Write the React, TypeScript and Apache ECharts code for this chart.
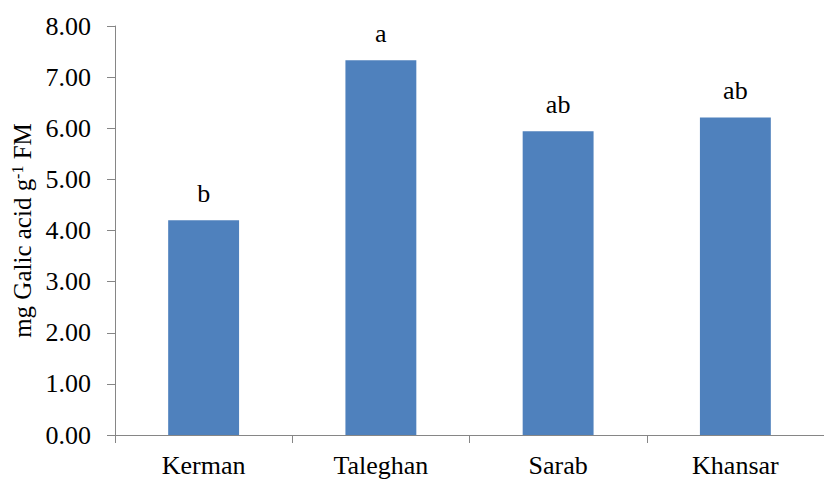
import React, { useEffect, useRef } from "react";
import * as echarts from "echarts";

const categories = ["Kerman", "Taleghan", "Sarab", "Khansar"];
const values = [4.2, 7.33, 5.94, 6.21];
const letters = ["b", "a", "ab", "ab"];
const yTicks = { min: 0, max: 8, interval: 1 };

const FONT = "Liberation Serif";

export default function App() {
  const ref = useRef<HTMLDivElement>(null);
  useEffect(() => {
    document.body.style.margin = "0";
    const chart = echarts.init(ref.current!, null, { renderer: "svg" });
    chart.setOption({
      animation: false,
      backgroundColor: "#ffffff",
      textStyle: { fontFamily: FONT },
      grid: { left: 115, top: 26, bottom: 44, width: 720 },
      xAxis: {
        type: "category",
        data: categories,
        axisLine: { show: true, lineStyle: { color: "#868686", width: 1 } },
        axisTick: { show: true, length: 8, alignWithLabel: false, lineStyle: { color: "#868686" } },
        axisLabel: { color: "#000", fontSize: 26, fontFamily: FONT, margin: 17 },
        splitLine: { show: false },
      },
      yAxis: {
        type: "value",
        min: yTicks.min,
        max: yTicks.max,
        interval: yTicks.interval,
        name: "{a|mg Galic acid g}{s|-1}{a| FM}",
        nameLocation: "middle",
        nameGap: 79,
        nameRotate: 90,
        nameTextStyle: {
          color: "#000",
          fontFamily: FONT,
          fontSize: 25,
          rich: {
            a: { fontSize: 25, fontFamily: FONT, color: "#000" },
            s: { fontSize: 16, fontFamily: FONT, color: "#000", verticalAlign: "top", padding: [0, 0, 9, 0] },
          },
        },
        axisLine: { show: true, lineStyle: { color: "#868686", width: 1 } },
        axisTick: { show: true, length: 8, inside: false, lineStyle: { color: "#868686" } },
        axisLabel: {
          color: "#000",
          fontSize: 26,
          fontFamily: FONT,
          margin: 24,
          formatter: (v: number) => v.toFixed(2),
        },
        splitLine: { show: false },
      },
      series: [
        {
          type: "bar",
          data: values,
          barWidth: "40%",
          itemStyle: { color: "#4F81BD" },
          label: {
            show: true,
            position: "top",
            distance: 14,
            color: "#000",
            fontSize: 26,
            fontFamily: FONT,
            formatter: (p: any) => letters[p.dataIndex],
          },
        },
      ],
    });
    return () => chart.dispose();
  }, []);
  return (
    <div
      ref={ref}
      style={{ position: "fixed", left: 0, top: 0, width: 824, height: 479 }}
    />
  );
}
